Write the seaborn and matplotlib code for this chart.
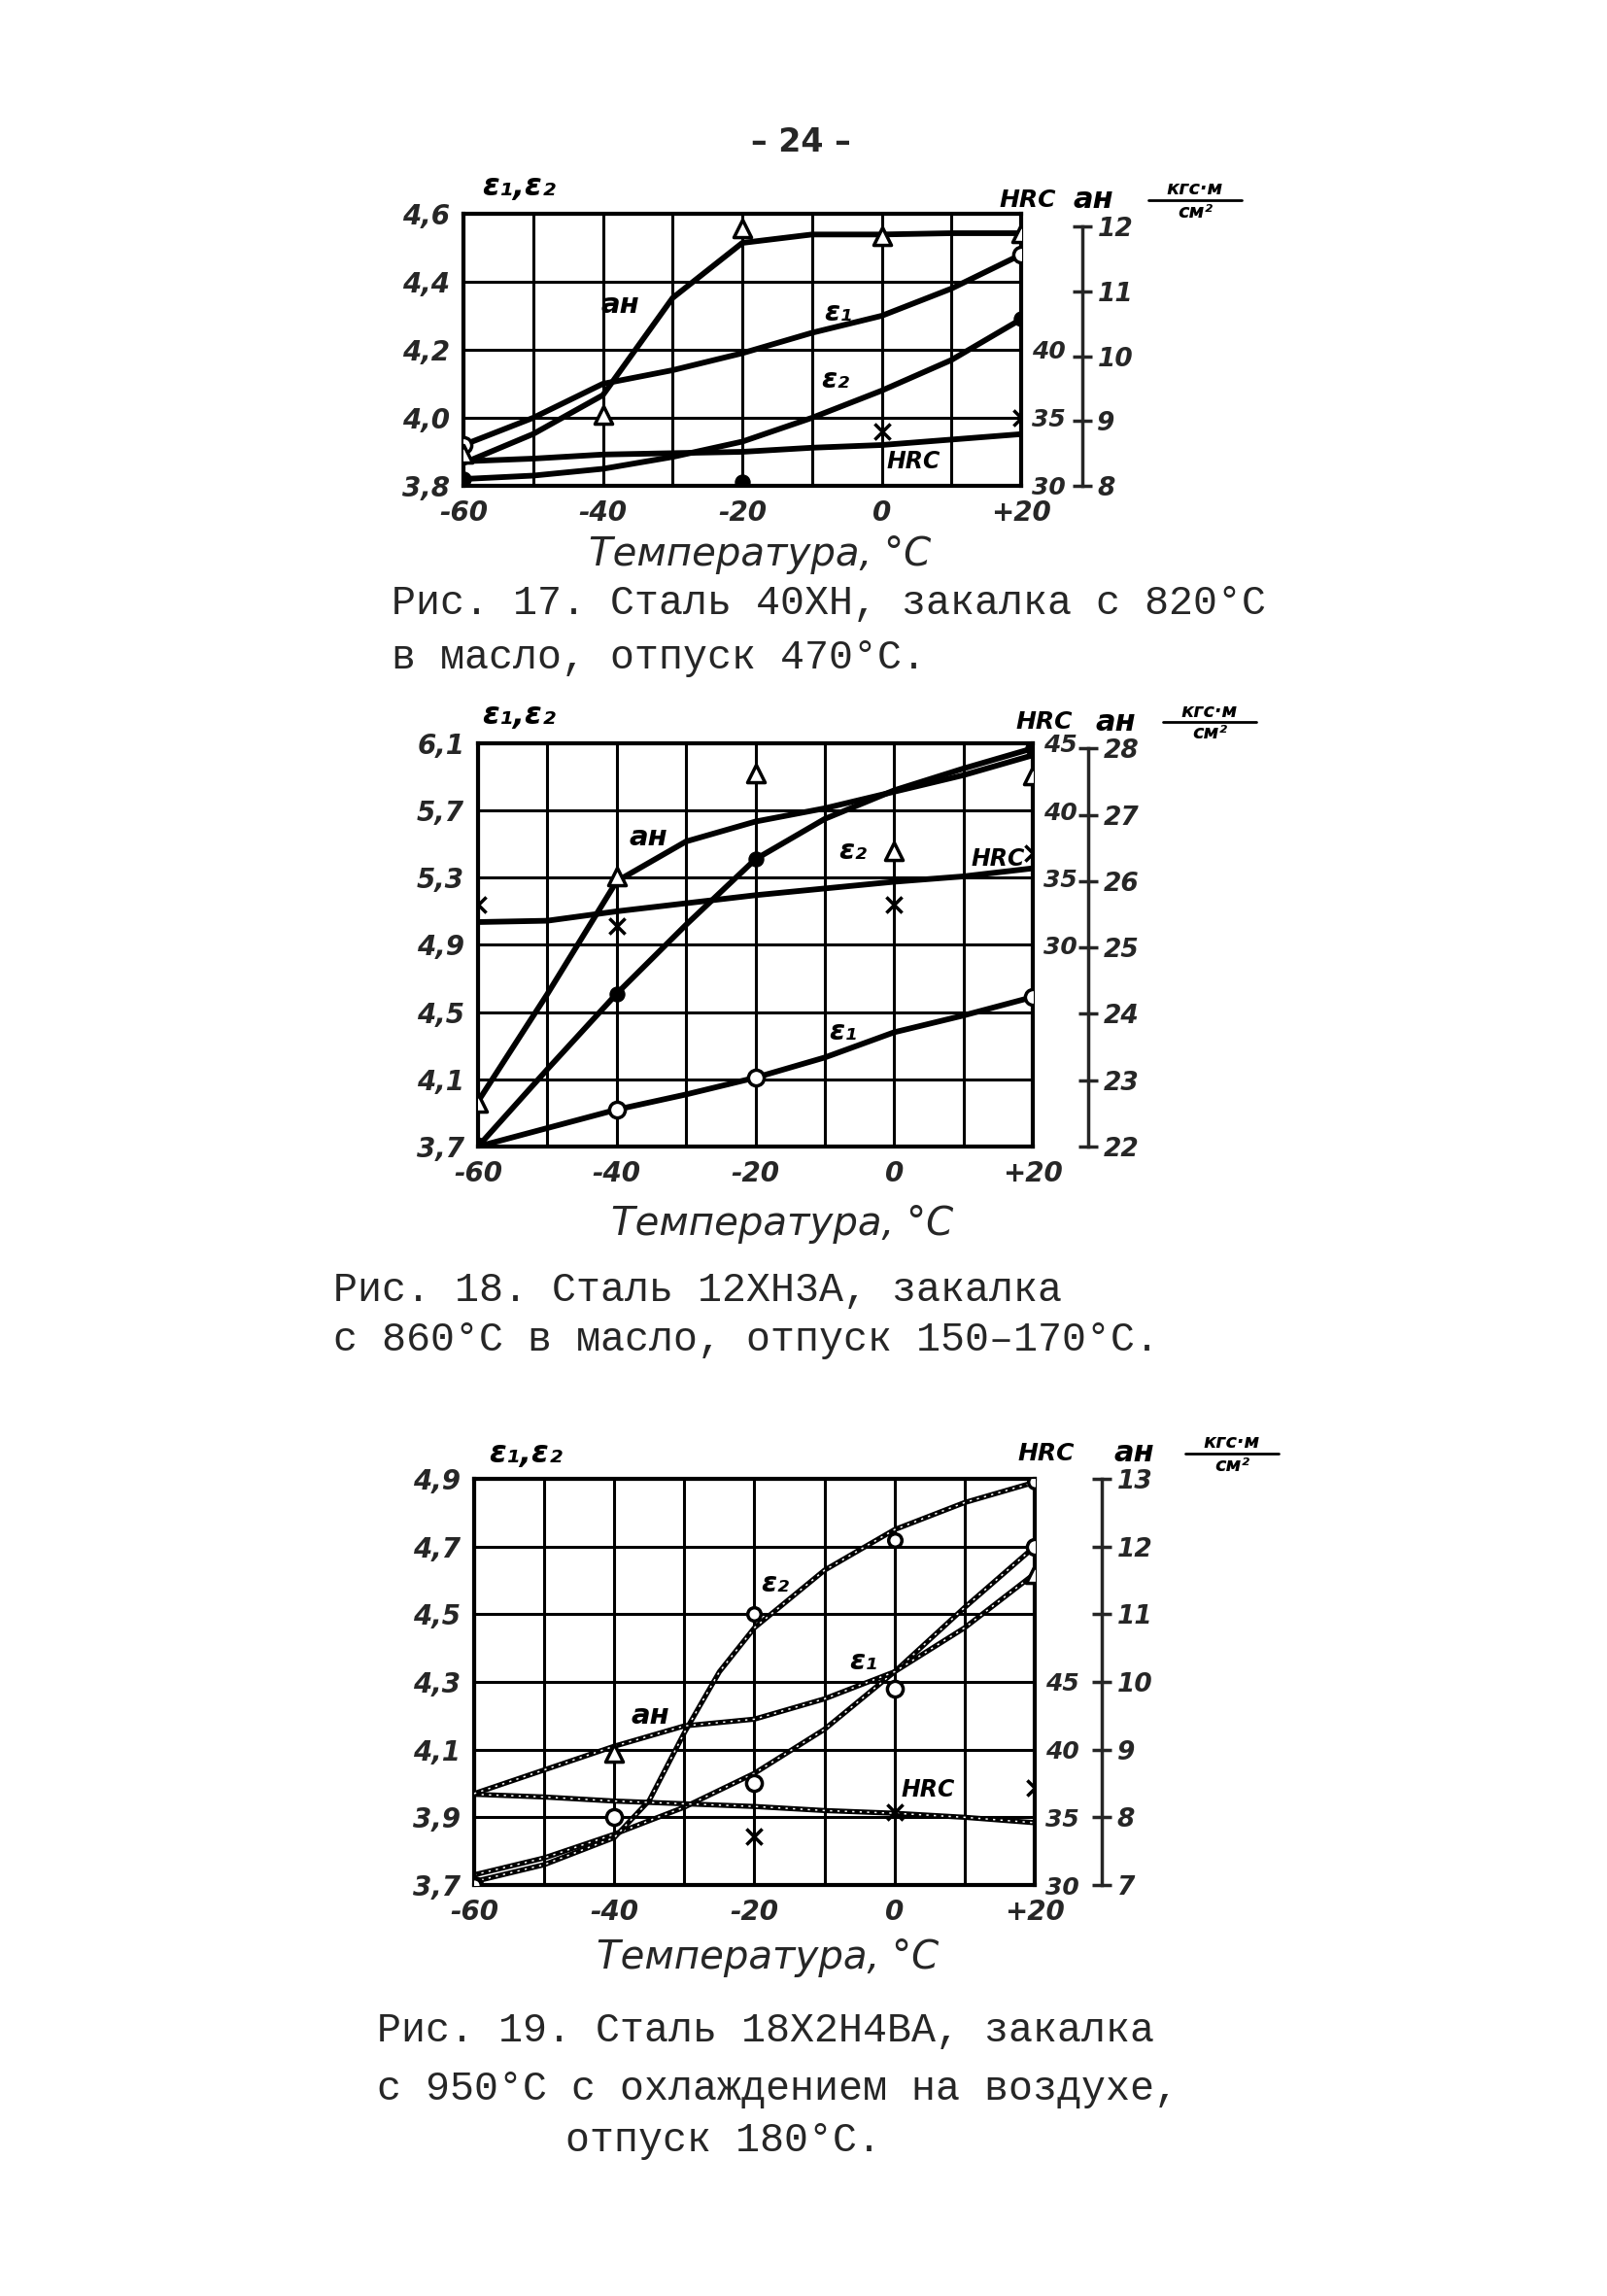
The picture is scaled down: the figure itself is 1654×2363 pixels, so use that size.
import matplotlib
matplotlib.use('Agg')
import matplotlib.pyplot as plt
import pandas as pd
import seaborn as sns
from matplotlib.lines import Line2D

# temperature grid, deg C (curve points read at every grid line)
temps = [-60, -50, -40, -30, -20, -10, 0, 10, 20]
x_labels = ['-60', '', '-40', '', '-20', '', '0', '', '+20']

# ---- Fig. 17: steel 40XH ----
f17_eps1 = [3.92, 4.00, 4.10, 4.14, 4.19, 4.25, 4.30, 4.38, 4.48]
f17_eps2 = [3.82, 3.83, 3.85, 3.885, 3.93, 4.00, 4.08, 4.17, 4.29]
f17_an = [8.35, 8.8, 9.4, 10.9, 11.75, 11.88, 11.88, 11.9, 11.9]
f17_hrc = [31.8, 32.0, 32.3, 32.4, 32.5, 32.8, 33.0, 33.4, 33.8]
# measured points
f17_an_t = [-60, -40, -20, 0, 20]
f17_an_pts = [8.5, 9.1, 11.98, 11.86, 11.9]
f17_eps1_t = [-60, 20]
f17_eps1_pts = [3.92, 4.48]
f17_eps2_t = [-60, -20, 20]
f17_eps2_pts = [3.82, 3.81, 4.29]
f17_hrc_t = [0, 20]
f17_hrc_pts = [34.0, 35.0]

# ---- Fig. 18: steel 12XH3A ----
f18_eps1 = [3.70, 3.81, 3.92, 4.01, 4.11, 4.23, 4.38, 4.48, 4.59]
f18_eps2 = [3.70, 4.16, 4.61, 5.02, 5.41, 5.65, 5.82, 5.95, 6.07]
f18_an = [22.68, 24.3, 26.0, 26.6, 26.9, 27.1, 27.35, 27.6, 27.9]
f18_hrc = [31.7, 31.8, 32.5, 33.1, 33.7, 34.2, 34.7, 35.1, 35.7]
f18_an_t = [-60, -40, -20, 0, 20]
f18_an_pts = [22.66, 26.07, 27.63, 26.45, 27.6]
f18_eps1_t = [-60, -40, -20, 20]
f18_eps1_pts = [3.70, 3.92, 4.11, 4.59]
f18_eps2_t = [-60, -40, -20, 20]
f18_eps2_pts = [3.70, 4.61, 5.41, 6.07]
f18_hrc_t = [-60, -40, 0, 20]
f18_hrc_pts = [33.0, 31.4, 33.0, 36.8]

# ---- Fig. 19: steel 18X2H4BA ----
f19_eps1 = [3.73, 3.78, 3.85, 3.93, 4.03, 4.16, 4.33, 4.52, 4.70]
f19_eps2_t = [-60, -50, -40, -35, -30, -25, -20, -10, 0, 10, 20]
f19_eps2 = [3.71, 3.76, 3.84, 3.95, 4.15, 4.33, 4.46, 4.63, 4.75, 4.83, 4.89]
f19_an = [8.35, 8.7, 9.05, 9.35, 9.45, 9.75, 10.15, 10.8, 11.6]
f19_hrc = [36.7, 36.5, 36.2, 36.0, 35.8, 35.5, 35.3, 35.0, 34.6]
f19_an_t = [-40, 20]
f19_an_pts = [8.95, 11.6]
f19_eps1_t = [-60, -40, -20, 0, 20]
f19_eps1_pts = [3.70, 3.90, 4.00, 4.28, 4.70]
f19_eps2_mt = [-60, -20, 0, 20]
f19_eps2_pts = [3.70, 4.50, 4.72, 4.89]
f19_hrc_t = [-20, 0, 20]
f19_hrc_pts = [33.6, 35.4, 37.2]

W, H = 1654, 2363
sns.set_style("white")
plt.rcParams['font.family'] = ['DejaVu Sans']
fig = plt.figure(figsize=(W / 100, H / 100), dpi=100)
fig.patch.set_facecolor('white')

hand = dict(fontstyle='italic', fontweight='bold', color='black')


def px(x, y):
    # page pixel -> figure fraction
    return x / W, 1 - y / H


def frame(x, y):
    if len(x) != len(y):
        raise ValueError('length mismatch %d %d %s' % (len(x), len(y), y))
    return pd.DataFrame({'t': x, 'v': y})


def panel(box, eps_lim, eps_ticks, eps_labels, hrc_lim, hrc_ticks, an_lim, an_ticks, an_pos):
    l, t, r, b = box
    ax = fig.add_axes([l / W, 1 - b / H, (r - l) / W, (b - t) / H])
    ax.set_xlim(-60, 20)
    ax.set_ylim(*eps_lim)
    ax.set_xticks(temps)
    ax.set_xticklabels(x_labels)
    ax.set_yticks(eps_ticks)
    ax.set_yticklabels(eps_labels)
    ax.grid(True, color='black', lw=2.2)
    for s in ax.spines.values():
        s.set_color('black')
        s.set_linewidth(3)
    ax.tick_params(length=0, labelsize=20, pad=10)
    for lbl in ax.get_xticklabels() + ax.get_yticklabels():
        lbl.set_fontstyle('italic')
        lbl.set_fontweight('bold')

    ax_h = ax.twinx()
    ax_h.set_ylim(*hrc_lim)
    ax_h.set_yticks(hrc_ticks)
    ax_h.set_yticklabels([str(v) for v in hrc_ticks])
    for s in ax_h.spines.values():
        s.set_visible(False)
    ax_h.tick_params(length=0, labelsize=18, pad=8)

    ax_a = ax.twinx()
    ax_a.set_ylim(*an_lim)
    ax_a.set_yticks(an_ticks)
    ax_a.set_yticklabels([str(v) for v in an_ticks])
    for name, s in ax_a.spines.items():
        s.set_visible(name == 'right')
    ax_a.spines['right'].set_position(('axes', an_pos))
    ax_a.spines['right'].set_bounds(an_ticks[0], an_ticks[-1])
    ax_a.spines['right'].set_linewidth(2.5)
    ax_a.tick_params(direction='inout', length=14, width=2.5, labelsize=19, pad=4)
    for a in (ax_h, ax_a):
        for lbl in a.get_yticklabels():
            lbl.set_fontstyle('italic')
            lbl.set_fontweight('bold')
    return ax, ax_h, ax_a


def curve(a, x, y, lw=4.2, speckle=False):
    d = frame(x, y)
    sns.lineplot(data=d, x='t', y='v', ax=a, color='black', lw=lw, sort=False, legend=False)
    if speckle:
        sns.lineplot(data=d, x='t', y='v', ax=a, color='white', lw=1.1, sort=False,
                     legend=False, linestyle=(0, (1.5, 3.5)))


def points(a, x, y, kind, msize=170):
    d = frame(x, y)
    if kind == 'tri':
        sns.scatterplot(data=d, x='t', y='v', ax=a, marker='^', s=msize, color='white',
                        edgecolor='black', linewidth=2.5, zorder=6, legend=False)
    elif kind == 'open':
        sns.scatterplot(data=d, x='t', y='v', ax=a, marker='o', s=msize * 0.8, color='white',
                        edgecolor='black', linewidth=2.5, zorder=6, legend=False)
    elif kind == 'dot':
        sns.scatterplot(data=d, x='t', y='v', ax=a, marker='o', s=msize * 0.7, color='black',
                        edgecolor='black', zorder=6, legend=False)
    else:
        sns.scatterplot(data=d, x='t', y='v', ax=a, marker='x', s=msize * 0.8, color='black',
                        linewidth=2.5, zorder=6, legend=False)


def an_units(x_a, x_frac, y, fsize=20):
    # "a_н  кгс·м / см²" heading of the impact-strength axis
    fig.text(*px(x_a, y), 'aн', fontsize=fsize + 2, ha='center', va='center', **hand)
    fig.text(*px(x_frac, y - 11), 'кгс·м', fontsize=fsize - 6, ha='center', va='center', **hand)
    fig.text(*px(x_frac, y + 12), 'см²', fontsize=fsize - 6, ha='center', va='center', **hand)
    x0, y0 = px(x_frac - 48, y)
    x1, _ = px(x_frac + 48, y)
    fig.add_artist(Line2D([x0, x1], [y0, y0], color='black', lw=2))


def clear_labels(*axes):
    for a in axes:
        a.set_xlabel('')
        a.set_ylabel('')


# page number
fig.text(*px(824, 146), '– 24 –', fontsize=24, fontweight='bold', ha='center', va='center')

cap = dict(fontsize=30, family='Liberation Mono', ha='left', va='center')
xlab = dict(fontsize=29, ha='center', va='center', fontstyle='italic')

# ---------- Fig. 17 ----------
ax, ax_h, ax_a = panel((477, 220, 1051, 500), (3.8, 4.6), [3.8, 4.0, 4.2, 4.4, 4.6],
                       ['3,8', '4,0', '4,2', '4,4', '4,6'], (30, 50), [30, 35, 40],
                       (8, 12.2), [8, 9, 10, 11, 12], 1.11)
curve(ax, temps, f17_eps1)
curve(ax, temps, f17_eps2)
curve(ax_a, temps, f17_an)
curve(ax_h, temps, f17_hrc)
points(ax_a, f17_an_t, f17_an_pts, 'tri')
points(ax, f17_eps1_t, f17_eps1_pts, 'open')
points(ax, f17_eps2_t, f17_eps2_pts, 'dot')
points(ax_h, f17_hrc_t, f17_hrc_pts, 'x')
clear_labels(ax, ax_h, ax_a)
ax.text(-37.5, 4.33, 'aн', fontsize=21, ha='center', va='center', **hand)
ax.text(-6.3, 4.31, 'ε₁', fontsize=21, ha='center', va='center', **hand)
ax.text(-6.7, 4.11, 'ε₂', fontsize=21, ha='center', va='center', **hand)
ax.text(4.5, 3.87, 'HRC', fontsize=17, ha='center', va='center', **hand)
fig.text(*px(534, 192), 'ε₁,ε₂', fontsize=23, ha='center', va='center', **hand)
fig.text(*px(1058, 206), 'HRC', fontsize=18, ha='center', va='center', **hand)
an_units(1125, 1230, 206)
fig.text(*px(782, 571), 'Температура, °C', **xlab)
fig.text(*px(403, 621), 'Рис. 17. Сталь 40ХН, закалка с 820°C', **cap)
fig.text(*px(403, 677), 'в масло, отпуск 470°C.', **cap)

# ---------- Fig. 18 ----------
ax, ax_h, ax_a = panel((492, 765, 1063, 1180), (3.7, 6.1),
                       [3.7, 4.1, 4.5, 4.9, 5.3, 5.7, 6.1],
                       ['3,7', '4,1', '4,5', '4,9', '5,3', '5,7', '6,1'],
                       (15, 45), [30, 35, 40, 45],
                       (22, 28.08), [22, 23, 24, 25, 26, 27, 28], 1.10)
curve(ax, temps, f18_eps1)
curve(ax, temps, f18_eps2)
curve(ax_a, temps, f18_an)
curve(ax_h, temps, f18_hrc)
points(ax_a, f18_an_t, f18_an_pts, 'tri')
points(ax, f18_eps1_t, f18_eps1_pts, 'open')
points(ax, f18_eps2_t, f18_eps2_pts, 'dot')
points(ax_h, f18_hrc_t, f18_hrc_pts, 'x')
clear_labels(ax, ax_h, ax_a)
ax.text(-35.4, 5.54, 'aн', fontsize=21, ha='center', va='center', **hand)
ax.text(-6.0, 5.46, 'ε₂', fontsize=21, ha='center', va='center', **hand)
ax.text(15.0, 5.41, 'HRC', fontsize=17, ha='center', va='center', **hand)
ax.text(-7.3, 4.38, 'ε₁', fontsize=21, ha='center', va='center', **hand)
fig.text(*px(534, 737), 'ε₁,ε₂', fontsize=23, ha='center', va='center', **hand)
fig.text(*px(1075, 743), 'HRC', fontsize=18, ha='center', va='center', **hand)
an_units(1148, 1245, 743)
fig.text(*px(805, 1260), 'Температура, °C', **xlab)
fig.text(*px(343, 1328), 'Рис. 18. Сталь 12ХН3А, закалка', **cap)
fig.text(*px(343, 1379), 'с 860°C в масло, отпуск 150–170°C.', **cap)

# ---------- Fig. 19 ----------
ax, ax_h, ax_a = panel((488, 1522, 1065, 1940), (3.7, 4.9),
                       [3.7, 3.9, 4.1, 4.3, 4.5, 4.7, 4.9],
                       ['3,7', '3,9', '4,1', '4,3', '4,5', '4,7', '4,9'],
                       (30, 60), [30, 35, 40, 45],
                       (7, 13), [7, 8, 9, 10, 11, 12, 13], 1.12)
curve(ax, temps, f19_eps1, lw=3.8, speckle=True)
curve(ax, f19_eps2_t, f19_eps2, lw=3.8, speckle=True)
curve(ax_a, temps, f19_an, lw=3.8, speckle=True)
curve(ax_h, temps, f19_hrc, lw=3.8, speckle=True)
points(ax_a, f19_an_t, f19_an_pts, 'tri')
points(ax, f19_eps1_t, f19_eps1_pts, 'open')
points(ax, f19_eps2_mt, f19_eps2_pts, 'open', msize=120)
points(ax_h, f19_hrc_t, f19_hrc_pts, 'x')
clear_labels(ax, ax_h, ax_a)
ax.text(-17.0, 4.59, 'ε₂', fontsize=21, ha='center', va='center', **hand)
ax.text(-4.4, 4.36, 'ε₁', fontsize=21, ha='center', va='center', **hand)
ax.text(-34.8, 4.20, 'aн', fontsize=21, ha='center', va='center', **hand)
ax.text(4.8, 3.98, 'HRC', fontsize=17, ha='center', va='center', **hand)
fig.text(*px(541, 1496), 'ε₁,ε₂', fontsize=23, ha='center', va='center', **hand)
fig.text(*px(1077, 1496), 'HRC', fontsize=18, ha='center', va='center', **hand)
an_units(1167, 1268, 1496)
fig.text(*px(790, 2015), 'Температура, °C', **xlab)
fig.text(*px(388, 2090), 'Рис. 19. Сталь 18Х2Н4ВА, закалка', **cap)
fig.text(*px(388, 2150), 'с 950°C с охлаждением на воздухе,', **cap)
fig.text(*px(745, 2203), 'отпуск 180°C.', fontsize=30, family='Liberation Mono',
         ha='center', va='center')

fig.savefig('out.png', dpi=100, facecolor='white')
